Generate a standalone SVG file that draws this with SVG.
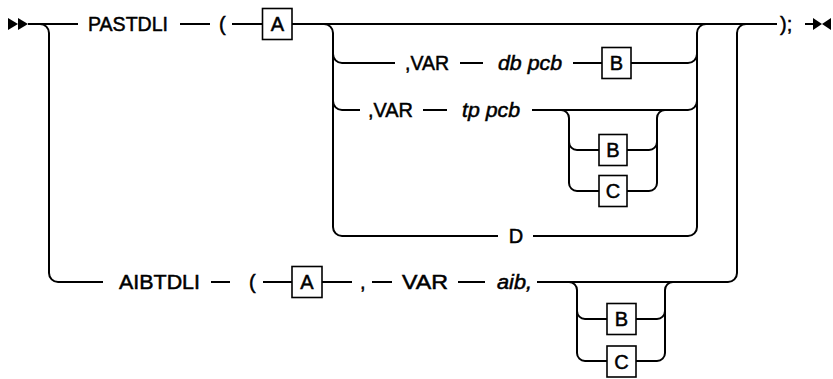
<svg xmlns="http://www.w3.org/2000/svg" width="833" height="379" viewBox="0 0 833 379">
<style>
.t{font-family:"Liberation Sans",Arial,sans-serif;font-size:20px;fill:#000;stroke:#000;stroke-width:0.5}
.i{font-style:italic}
.m{text-anchor:middle}
.ln{fill:none;stroke:#000;stroke-width:2}
.bx{fill:#fff;stroke:#000;stroke-width:1.6}
.ar{fill:#000}
</style>
<rect width="833" height="379" fill="#fff"/>
<g id="connectors">
<polygon class="ar" points="8,18 18,24 8,30"/>
<polygon class="ar" points="18,18 28,24 18,30"/>
<path class="ln" d="M28 24H78M180 24H210M232 24H262M292 24H777"/>
<path class="ln" d="M40 24A9 9 0 0 1 49 33V273A9 9 0 0 0 58 282H103"/>
<path class="ln" d="M324 24A9 9 0 0 1 333 33V227A9 9 0 0 0 342 236H498M533 236H688A9 9 0 0 0 697 227V33A9 9 0 0 1 706 24"/>
<path class="ln" d="M333 54A9 9 0 0 0 342 63H395M460 63H483M573 63H602M631 63H688A9 9 0 0 0 697 54"/>
<path class="ln" d="M333 101A9 9 0 0 0 342 110H360M423 110H447M532 110H688A9 9 0 0 0 697 101"/>
<path class="ln" d="M561 110A8 8 0 0 1 569 118V183A8 8 0 0 0 577 191H599M569 142A8 8 0 0 0 577 150H599M627 150H649A8 8 0 0 0 657 142M627 191H649A8 8 0 0 0 657 183V118A8 8 0 0 1 665 110"/>
<path class="ln" d="M211 282H230M263 282H292M322 282H352M372 282H392M458 282H485M537 282H728A9 9 0 0 0 737 273V33A9 9 0 0 1 746 24"/>
<path class="ln" d="M569 282A8 8 0 0 1 577 290V353A8 8 0 0 0 585 361H607M577 311A8 8 0 0 0 585 319H607M636 319H657A8 8 0 0 0 665 311M636 361H657A8 8 0 0 0 665 353V290A8 8 0 0 1 673 282"/>
<path class="ln" d="M805 24H813"/>
<polygon class="ar" points="813,18 822,24 813,30"/>
<polygon class="ar" points="831,18 822,24 831,30"/>
</g>
<g id="pastdli"><text class="t" x="88" y="31" textLength="80" lengthAdjust="spacingAndGlyphs">PASTDLI</text></g>
<g id="paren1"><text class="t" x="219" y="31">(</text></g>
<g id="boxA1"><rect class="bx" x="262.5" y="8.5" width="29.5" height="31"/><text class="t m" x="277.3" y="31">A</text></g>
<g id="var1"><text class="t" x="405" y="70" textLength="44" lengthAdjust="spacingAndGlyphs">,VAR</text></g>
<g id="dbpcb"><text class="t i" x="498" y="70" textLength="64" lengthAdjust="spacingAndGlyphs">db pcb</text></g>
<g id="boxB1"><rect class="bx" x="602" y="47.5" width="29" height="31"/><text class="t m" x="616.5" y="70">B</text></g>
<g id="var2"><text class="t" x="368" y="117" textLength="45" lengthAdjust="spacingAndGlyphs">,VAR</text></g>
<g id="tppcb"><text class="t i" x="462" y="117" textLength="58" lengthAdjust="spacingAndGlyphs">tp pcb</text></g>
<g id="boxB2"><rect class="bx" x="599" y="134.5" width="28" height="31"/><text class="t m" x="613" y="157">B</text></g>
<g id="boxC2"><rect class="bx" x="599" y="175.5" width="28" height="31"/><text class="t m" x="613" y="198">C</text></g>
<g id="D"><text class="t m" x="516" y="243">D</text></g>
<g id="end"><text class="t" x="780" y="31">);</text></g>
<g id="aibtdli"><text class="t" x="119" y="289" textLength="81" lengthAdjust="spacingAndGlyphs">AIBTDLI</text></g>
<g id="paren2"><text class="t" x="249" y="289">(</text></g>
<g id="boxA2"><rect class="bx" x="292" y="266.5" width="30" height="31"/><text class="t m" x="307" y="289">A</text></g>
<g id="comma"><text class="t" x="360" y="289">,</text></g>
<g id="var3"><text class="t" x="402" y="289" textLength="46" lengthAdjust="spacingAndGlyphs">VAR</text></g>
<g id="aib"><text class="t i" x="497" y="289" textLength="35" lengthAdjust="spacingAndGlyphs">aib,</text></g>
<g id="boxB3"><rect class="bx" x="607" y="303.5" width="29" height="31"/><text class="t m" x="621.5" y="326">B</text></g>
<g id="boxC3"><rect class="bx" x="607" y="346" width="29" height="31"/><text class="t m" x="621.5" y="368.5">C</text></g>
</svg>
